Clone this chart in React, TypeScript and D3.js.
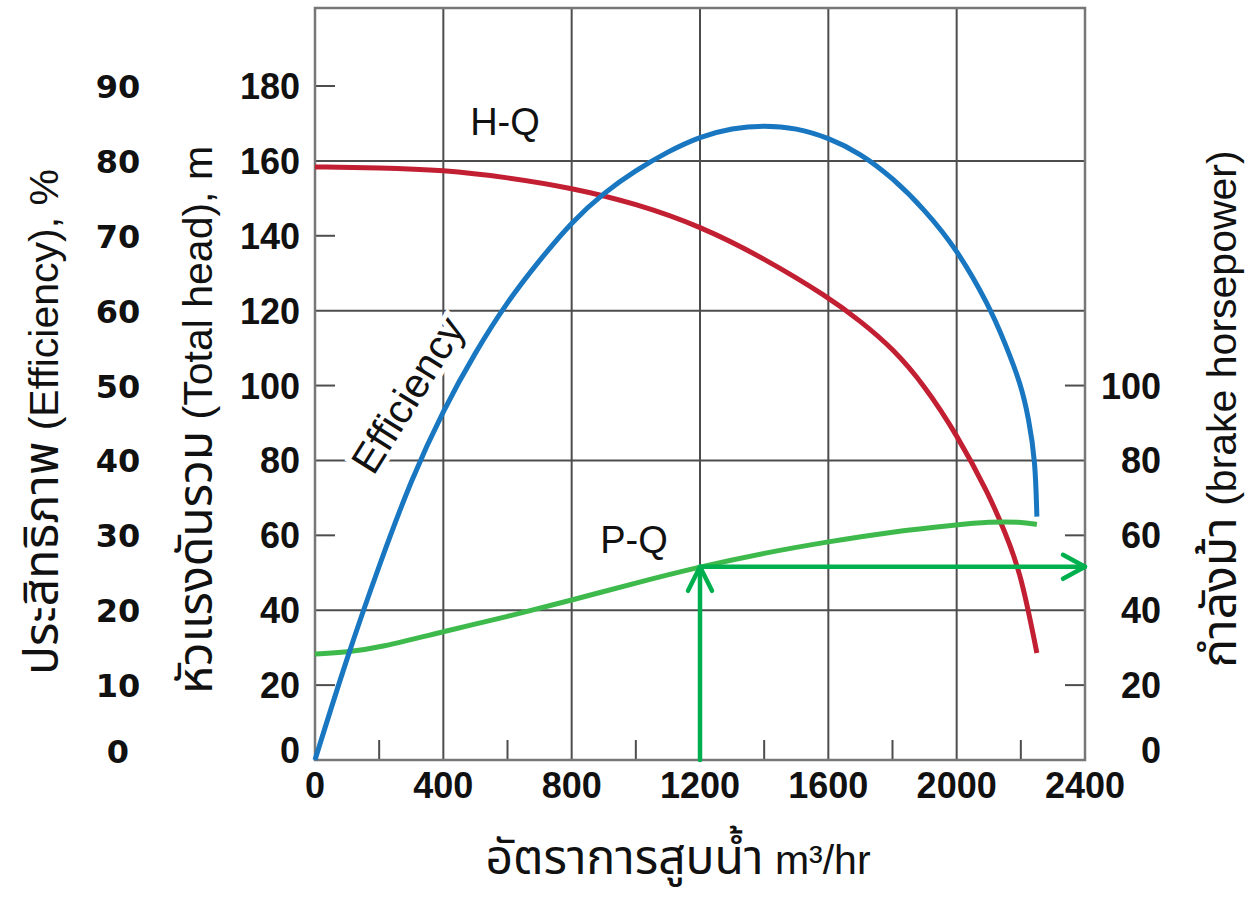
import * as d3 from "d3";

// H-Q curve (blue), total head in m
const headQ = [0, 100, 200, 300, 400, 500, 600, 700, 800, 900, 1000, 1100, 1200, 1300, 1400, 1500, 1600, 1700, 1800, 1900, 2000, 2100, 2150, 2200, 2225, 2245, 2250];
const headM = [0, 27.5, 52, 75, 93.5, 109, 122.5, 133.5, 143.7, 151.5, 157.5, 162.5, 166.5, 168.8, 169.5, 168.8, 166.2, 162, 155.5, 147, 136.5, 121.5, 111.5, 100.5, 91, 80, 65];

// efficiency curve (red), %
const effQ = [0, 200, 400, 600, 800, 1000, 1200, 1400, 1600, 1700, 1800, 1900, 2000, 2100, 2150, 2200, 2250];
const effPct = [79.2, 79.1, 78.8, 77.8, 76.4, 74.3, 71.3, 67, 61.8, 58.6, 55, 50, 43.5, 35.5, 30.5, 25, 14.3];

// P-Q curve (green), brake horsepower
const powerQ = [0, 100, 200, 400, 600, 800, 1000, 1200, 1400, 1600, 1800, 2000, 2100, 2200, 2250];
const powerHp = [28.3, 28.8, 30, 34.3, 38.3, 42.7, 47.3, 51.6, 55.3, 58.3, 61, 62.8, 63.6, 63.6, 62.9];

// operating point marked by arrows
const dutyQ = 1200;
const dutyHp = 51.6;

const xTicks = [0, 400, 800, 1200, 1600, 2000, 2400];
const xMinor = [200, 600, 1000, 1400, 1800, 2200];
const headTicks = [0, 20, 40, 60, 80, 100, 120, 140, 160, 180];
const headGrid = [40, 80, 120, 160];
const headMinor = [20, 60, 100, 140, 180];
const effTicks = [0, 10, 20, 30, 40, 50, 60, 70, 80, 90];
const hpTicks = [0, 20, 40, 60, 80, 100];
const hpMinor = [20, 60, 100];

const W = 1249;
const H = 905;
const left = 315;
const right = 1085;
const top = 8;
const bottom = 760;

const font = "'Liberation Sans', Arial, 'Noto Sans Thai', 'Noto Sans', sans-serif";
const gridColor = "#4d4d4d";
const arrowColor = "#00b04f";
const thaiSize = 48;

export default function App() {
  const x = d3.scaleLinear().domain([0, 2400]).range([left, right]);
  const y = d3.scaleLinear().domain([0, 180]).range([bottom, 86]);
  const yEff = d3.scaleLinear().domain([0, 90]).range([bottom, 86]);
  const yHp = d3.scaleLinear().domain([0, 100]).range([bottom, y(100)]);

  const curve = d3.curveBasis;
  const headLine = d3
    .line<number>()
    .x((_, i) => x(headQ[i]))
    .y((d) => y(d))
    .curve(curve);
  const effLine = d3
    .line<number>()
    .x((_, i) => x(effQ[i]))
    .y((d) => yEff(d))
    .curve(curve);
  const powerLine = d3
    .line<number>()
    .x((_, i) => x(powerQ[i]))
    .y((d) => yHp(d))
    .curve(curve);

  const px = x(dutyQ);
  const py = yHp(dutyHp);

  return (
    <svg
      width={W}
      height={H}
      viewBox={`0 0 ${W} ${H}`}
      style={{ position: "absolute", left: 0, top: 0, background: "#fff" }}
      fontFamily={font}
    >
      {/* grid */}
      <g stroke={gridColor} strokeWidth={2}>
        {xTicks.slice(1, -1).map((t) => (
          <line key={"vx" + t} x1={x(t)} x2={x(t)} y1={top} y2={bottom} />
        ))}
        {headGrid.map((t) => (
          <line key={"hy" + t} x1={left} x2={right} y1={y(t)} y2={y(t)} />
        ))}
        {xMinor.map((t) => (
          <line key={"mx" + t} x1={x(t)} x2={x(t)} y1={bottom} y2={bottom - 20} />
        ))}
        {headMinor.map((t) => (
          <line key={"my" + t} x1={left} x2={left + 20} y1={y(t)} y2={y(t)} />
        ))}
        {hpMinor.map((t) => (
          <line key={"mh" + t} x1={right} x2={right - 20} y1={yHp(t)} y2={yHp(t)} />
        ))}
      </g>
      <rect x={left} y={top} width={right - left} height={bottom - top} fill="none" stroke="#777" strokeWidth={2.5} />

      {/* curves */}
      <path d={effLine(effPct) ?? ""} fill="none" stroke="#c21f32" strokeWidth={5} />
      <path d={powerLine(powerHp) ?? ""} fill="none" stroke="#3dba4b" strokeWidth={5} />
      <path d={headLine(headM) ?? ""} fill="none" stroke="#1877c0" strokeWidth={5} />

      {/* duty point arrows */}
      <g stroke={arrowColor} strokeWidth={4.5} fill="none" strokeLinecap="round" strokeLinejoin="round">
        <line x1={px} x2={px} y1={bottom} y2={py} />
        <line x1={px} x2={right} y1={py} y2={py} />
        <polyline points={`${px - 12},${py + 24} ${px},${py} ${px + 12},${py + 24}`} />
        <polyline points={`${right - 22},${py - 12} ${right},${py} ${right - 22},${py + 12}`} />
      </g>

      {/* curve labels */}
      <text x={505} y={135} fontSize={38} textAnchor="middle" fill="#111">H-Q</text>
      <text x={634} y={553} fontSize={38} textAnchor="middle" fill="#111">P-Q</text>
      <text
        x={0}
        y={0}
        transform={`translate(408,395) rotate(-58)`}
        fontSize={41}
        textAnchor="middle"
        dominantBaseline="central"
        fill="#111"
        stroke="#fff"
        strokeWidth={10}
        paintOrder="stroke"
      >
        Efficiency
      </text>

      {/* tick labels */}
      <g fontSize={36} fontWeight="bold" fill="#111">
        {xTicks.map((t) => (
          <text key={"xl" + t} x={x(t)} y={798} textAnchor="middle">{t}</text>
        ))}
        {headTicks.map((t) => (
          <text key={"hl" + t} x={300} y={y(t) + (t === 0 ? 3 : 13)} textAnchor="end">{t}</text>
        ))}
        {hpTicks.map((t) => (
          <text key={"pl" + t} x={1161} y={yHp(t) + (t === 0 ? 3 : 13)} textAnchor="end">{t}</text>
        ))}
      </g>
      <g fontSize={32} fontWeight="bold" fill="#111" fontFamily="'DejaVu Sans', sans-serif">
        {effTicks.map((t) => (
          <text key={"el" + t} x={118} y={yEff(t) + (t === 0 ? 3 : 12)} textAnchor="middle">{t}</text>
        ))}
      </g>

      {/* axis titles */}
      <g fontSize={41} fill="#111">
        <text transform="translate(58,422) rotate(-90)" textAnchor="middle">
          <tspan fontSize={thaiSize}>ประสิทธิภาพ</tspan> (Efficiency), %
        </text>
        <text transform="translate(212,420) rotate(-90)" textAnchor="middle">
          <tspan fontSize={thaiSize}>หัวแรงดันรวม</tspan> (Total head), m
        </text>
        <text transform="translate(1236,409) rotate(-90)" textAnchor="middle">
          <tspan fontSize={thaiSize}>กำลังม้า</tspan> (brake horsepower)
        </text>
        <text x={678} y={874} textAnchor="middle">
          <tspan fontSize={thaiSize}>อัตราการสูบน้ำ</tspan> m³/hr
        </text>
      </g>
    </svg>
  );
}
